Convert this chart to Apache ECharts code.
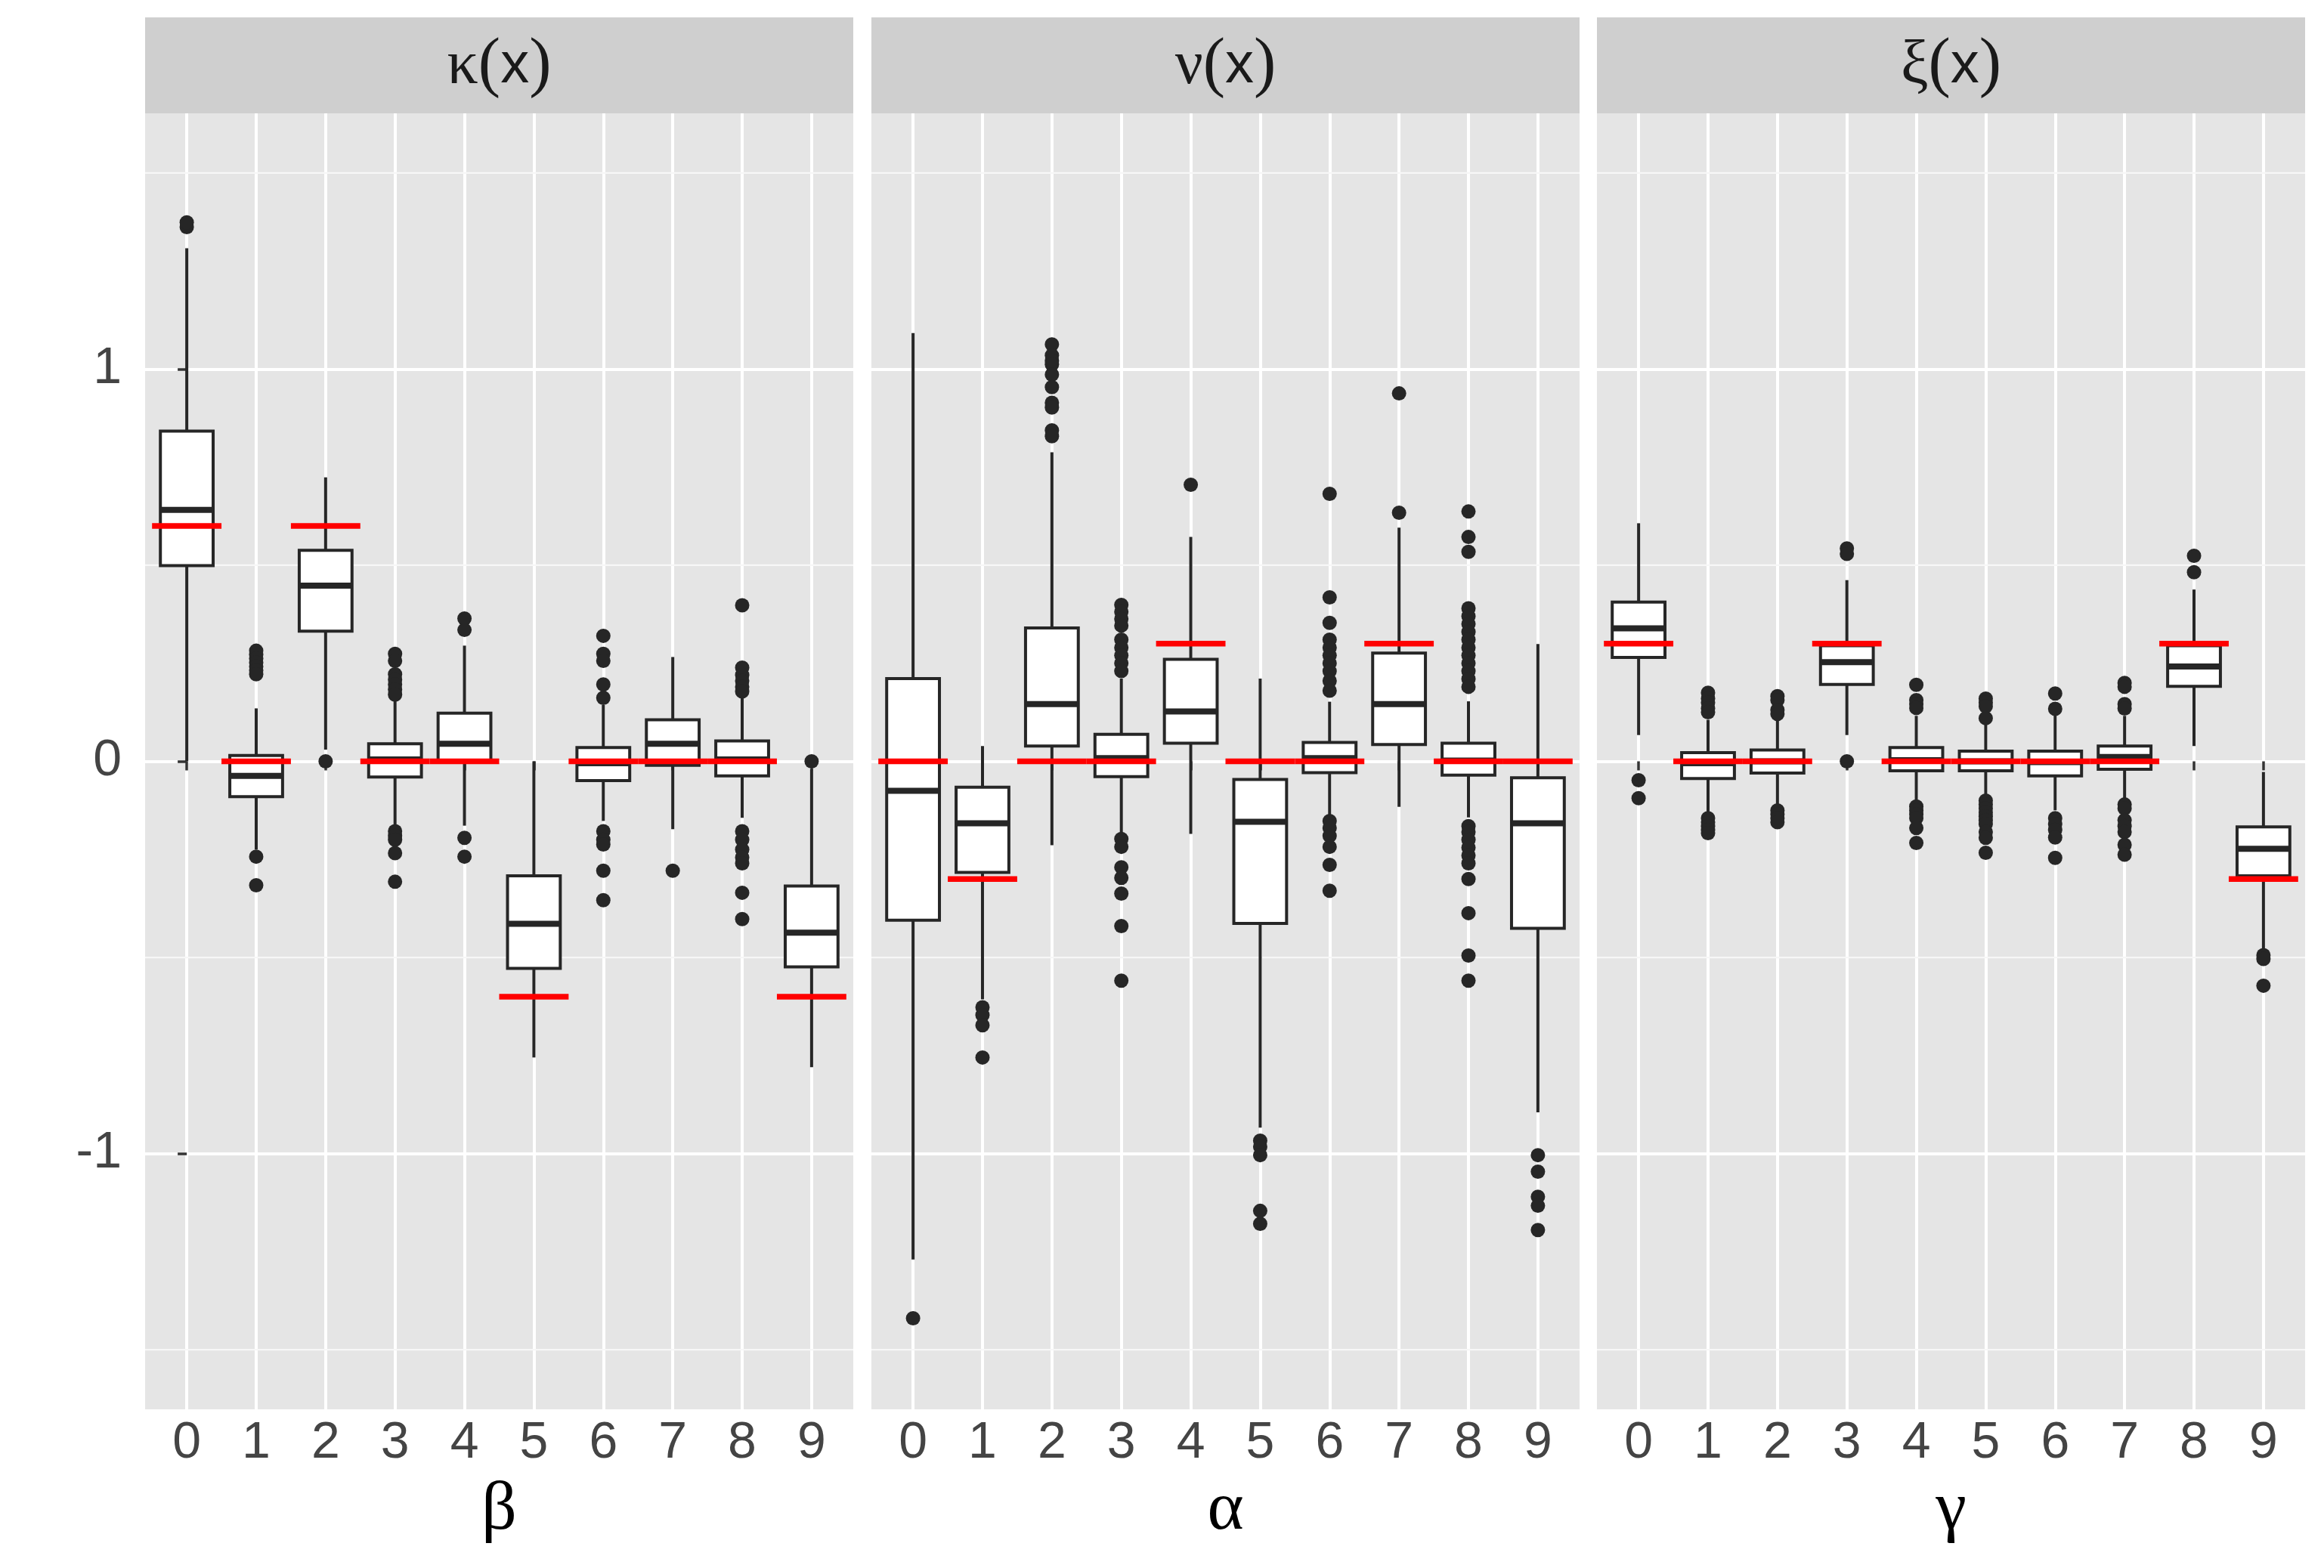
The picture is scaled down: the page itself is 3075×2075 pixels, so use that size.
<!DOCTYPE html>
<html>
<head>
<meta charset="utf-8">
<script src="https://cdn.jsdelivr.net/npm/echarts@6/dist/echarts.min.js"></script>
<style>
html, body { margin: 0; padding: 0; background: #ffffff; }
#main { width: 3075px; height: 2075px; }
</style>
</head>
<body>
<div id="main"></div>
<script>
var categories = ['0', '1', '2', '3', '4', '5', '6', '7', '8', '9'];
var stripGreek = ['κ', 'ν', 'ξ'];
var axisTitles = ['β', 'α', 'γ'];
var yMajor = [-1, 0, 1];
var yMinor = [-1.5, -0.5, 0.5, 1.5];

// each row: [lower whisker, Q1, median, Q3, upper whisker]
var kappaBox = [
    [0.0, 0.499, 0.641, 0.842, 1.308],
    [-0.225, -0.09, -0.037, 0.015, 0.135],
    [0.03, 0.332, 0.448, 0.538, 0.724],
    [-0.161, -0.04, 0.005, 0.045, 0.158],
    [-0.164, -0.003, 0.045, 0.123, 0.295],
    [-0.755, -0.528, -0.414, -0.292, 0.0],
    [-0.152, -0.049, -0.005, 0.035, 0.144],
    [-0.173, -0.01, 0.045, 0.106, 0.266],
    [-0.144, -0.037, 0.005, 0.052, 0.162],
    [-0.78, -0.524, -0.437, -0.318, -0.02]
];
var kappaOut = [
    [1.362, 1.374],
    [0.282, 0.272, 0.262, 0.252, 0.242, 0.232, 0.222, -0.243, -0.316],
    [0.0],
    [0.274, 0.256, 0.222, 0.208, 0.196, 0.183, 0.17, -0.178, -0.19, -0.2, -0.234, -0.307],
    [0.364, 0.335, -0.195, -0.243],
    [],
    [0.32, 0.274, 0.256, 0.196, 0.162, -0.178, -0.2, -0.212, -0.279, -0.354],
    [-0.279],
    [0.398, 0.239, 0.22, 0.205, 0.19, 0.178, -0.178, -0.2, -0.225, -0.245, -0.26, -0.335, -0.402],
    [0.0]
];
var kappaTrue = [0.6, 0, 0.6, 0, 0, -0.6, 0, 0, 0, -0.6];

var nuBox = [
    [-1.27, -0.405, -0.075, 0.211, 1.092],
    [-0.607, -0.283, -0.158, -0.066, 0.039],
    [-0.214, 0.039, 0.146, 0.34, 0.788],
    [-0.185, -0.039, 0.008, 0.069, 0.211],
    [-0.185, 0.046, 0.127, 0.26, 0.572],
    [-0.934, -0.413, -0.154, -0.046, 0.211],
    [-0.139, -0.029, 0.008, 0.048, 0.152],
    [-0.116, 0.043, 0.146, 0.276, 0.596],
    [-0.143, -0.035, 0.002, 0.046, 0.153],
    [-0.895, -0.426, -0.158, -0.042, 0.299]
];
var nuOut = [
    [-1.42],
    [-0.627, -0.647, -0.673, -0.755],
    [1.063, 1.035, 1.021, 1.012, 0.986, 0.954, 0.914, 0.902, 0.844, 0.829],
    [0.399, 0.381, 0.363, 0.346, 0.31, 0.29, 0.27, 0.25, 0.23, -0.198, -0.218, -0.27, -0.297, -0.337, -0.42, -0.559],
    [0.705],
    [-0.967, -0.983, -1.004, -1.146, -1.179],
    [0.682, 0.418, 0.353, 0.31, 0.29, 0.27, 0.25, 0.23, 0.205, 0.18, -0.152, -0.17, -0.19, -0.218, -0.264, -0.33],
    [0.634, 0.938],
    [0.637, 0.572, 0.534, 0.39, 0.37, 0.35, 0.33, 0.31, 0.29, 0.27, 0.25, 0.23, 0.21, 0.19, -0.165, -0.18, -0.2, -0.22, -0.24, -0.26, -0.3, -0.387, -0.495, -0.559],
    [-1.004, -1.046, -1.11, -1.133, -1.195]
];
var nuTrue = [0, -0.3, 0, 0, 0.3, 0, 0, 0.3, 0, 0];

var xiBox = [
    [0.067, 0.265, 0.339, 0.406, 0.607],
    [-0.13, -0.044, -0.005, 0.022, 0.106],
    [-0.11, -0.03, 0.0, 0.029, 0.106],
    [0.067, 0.196, 0.253, 0.295, 0.462],
    [-0.1, -0.024, 0.003, 0.035, 0.116],
    [-0.09, -0.024, 0.0, 0.026, 0.096],
    [-0.125, -0.037, -0.002, 0.026, 0.118],
    [-0.1, -0.02, 0.011, 0.039, 0.116],
    [0.039, 0.191, 0.242, 0.295, 0.438],
    [-0.479, -0.292, -0.223, -0.167, -0.027]
];
var xiOut = [
    [-0.048, -0.094],
    [0.175, 0.16, 0.15, 0.135, 0.125, -0.145, -0.155, -0.165, -0.175, -0.183],
    [0.166, 0.156, 0.131, 0.121, -0.125, -0.135, -0.145, -0.155],
    [0.543, 0.529, 0.0],
    [0.195, 0.156, 0.146, 0.136, -0.115, -0.125, -0.135, -0.145, -0.17, -0.208],
    [0.16, 0.15, 0.14, 0.11, -0.1, -0.11, -0.12, -0.13, -0.14, -0.15, -0.16, -0.18, -0.195, -0.233],
    [0.173, 0.134, -0.145, -0.16, -0.175, -0.194, -0.246],
    [0.2, 0.19, 0.146, 0.135, -0.11, -0.12, -0.15, -0.165, -0.18, -0.213, -0.238],
    [0.524, 0.482],
    [-0.494, -0.504, -0.572]
];
var xiTrue = [0.3, 0, 0, 0.3, 0, 0, 0, 0, 0.3, -0.3];

var panels = [
    { box: kappaBox, out: kappaOut, truth: kappaTrue },
    { box: nuBox, out: nuOut, truth: nuTrue },
    { box: xiBox, out: xiOut, truth: xiTrue }
];

var panelLeft = [192, 1153, 2113];
var panelWidth = 937;
var panelTop = 150;
var panelHeight = 1715;
var ink = '#262626';
var sansFont = '"Liberation Sans", Arial, sans-serif';
var serifFont = '"Liberation Serif", "DejaVu Serif", serif';
var boxHalf = 0.38;
var catValues = categories.map(function (c, i) { return i; });

var myChart = echarts.init(document.getElementById('main'));

function renderMinor(params, api) {
    var y = api.coord([0, api.value(1)])[1];
    var cs = params.coordSys;
    return {
        type: 'line',
        shape: { x1: cs.x, y1: y, x2: cs.x + cs.width, y2: y },
        style: { stroke: '#F7F7F7', lineWidth: 2.2 }
    };
}

function renderBox(params, api) {
    var x = api.value(0);
    var lo = api.coord([x, api.value(1)]);
    var q1 = api.coord([x, api.value(2)]);
    var md = api.coord([x, api.value(3)]);
    var q3 = api.coord([x, api.value(4)]);
    var hi = api.coord([x, api.value(5)]);
    var xl = api.coord([x - boxHalf, 0])[0];
    var xr = api.coord([x + boxHalf, 0])[0];
    return {
        type: 'group',
        children: [
            { type: 'line', shape: { x1: lo[0], y1: lo[1], x2: q1[0], y2: q1[1] }, style: { stroke: ink, lineWidth: 4 } },
            { type: 'line', shape: { x1: q3[0], y1: q3[1], x2: hi[0], y2: hi[1] }, style: { stroke: ink, lineWidth: 4 } },
            { type: 'rect', shape: { x: xl, y: q3[1], width: xr - xl, height: q1[1] - q3[1] },
              style: { fill: '#ffffff', stroke: ink, lineWidth: 4 } },
            { type: 'line', shape: { x1: xl, y1: md[1], x2: xr, y2: md[1] }, style: { stroke: ink, lineWidth: 8 } }
        ]
    };
}

function renderTruth(params, api) {
    var x = api.value(0);
    var a = api.coord([x - 0.5, api.value(1)]);
    var b = api.coord([x + 0.5, api.value(1)]);
    return {
        type: 'line',
        shape: { x1: a[0], y1: a[1], x2: b[0], y2: b[1] },
        style: { stroke: '#FF0000', lineWidth: 7.5 }
    };
}

var grids = [], xAxes = [], yAxes = [], series = [], graphics = [];

panels.forEach(function (p, i) {
    grids.push({
        left: panelLeft[i], top: panelTop, width: panelWidth, height: panelHeight,
        show: true, backgroundColor: '#E5E5E5', borderWidth: 0
    });
    xAxes.push({
        type: 'value', gridIndex: i, min: -0.6, max: 9.6,
        axisLine: { show: false },
        axisTick: { show: true, customValues: catValues, length: 12, lineStyle: { color: '#333333', width: 3.5 } },
        axisLabel: {
            customValues: catValues, margin: 11, fontSize: 68, color: '#444444', fontFamily: sansFont,
            formatter: function (v) { return categories[Math.round(v)]; }
        },
        splitLine: { show: true, lineStyle: { color: '#ffffff', width: 4 } },
        name: axisTitles[i], nameLocation: 'middle', nameGap: 88,
        nameTextStyle: { fontFamily: serifFont, fontSize: 92, color: '#000000' }
    });
    yAxes.push({
        type: 'value', gridIndex: i, min: -1.652, max: 1.652,
        axisLine: { show: false },
        axisTick: { show: i === 0, customValues: yMajor, length: 12, lineStyle: { color: '#333333', width: 3.5 } },
        axisLabel: { show: i === 0, customValues: yMajor, margin: 31, fontSize: 68, color: '#444444', fontFamily: sansFont },
        splitLine: { show: true, lineStyle: { color: '#ffffff', width: 4 } }
    });

    series.push({
        type: 'custom', xAxisIndex: i, yAxisIndex: i, silent: true, z: 1,
        renderItem: renderMinor,
        data: yMinor.map(function (v) { return [0, v]; })
    });
    series.push({
        type: 'custom', xAxisIndex: i, yAxisIndex: i, silent: true, z: 3,
        renderItem: renderBox,
        encode: { x: 0, y: [1, 2, 3, 4, 5] },
        data: p.box.map(function (r, c) { return [c].concat(r); })
    });
    var pts = [];
    p.out.forEach(function (list, c) {
        list.forEach(function (v) { pts.push([c, v]); });
    });
    series.push({
        type: 'scatter', xAxisIndex: i, yAxisIndex: i, silent: true, z: 4,
        symbolSize: 19, itemStyle: { color: ink, opacity: 1 },
        data: pts
    });
    series.push({
        type: 'custom', xAxisIndex: i, yAxisIndex: i, silent: true, z: 5,
        renderItem: renderTruth,
        data: p.truth.map(function (v, c) { return [c, v]; })
    });

    graphics.push({
        type: 'rect', x: panelLeft[i], y: 23,
        shape: { width: panelWidth, height: 127 },
        style: { fill: '#CFCFCF' }
    });
    graphics.push({
        type: 'text', x: panelLeft[i] + panelWidth / 2, y: 88,
        style: {
            text: '{g|' + stripGreek[i] + '}{p|(}{s|x}{p|)}',
            align: 'center', verticalAlign: 'middle',
            rich: {
                g: { fontFamily: serifFont, fontSize: 82, fill: '#1A1A1A' },
                p: { fontFamily: serifFont, fontSize: 88, fill: '#1A1A1A' },
                s: { fontFamily: sansFont, fontSize: 76, fill: '#1A1A1A' }
            }
        }
    });
});

var option = {
    backgroundColor: '#ffffff',
    animation: false,
    grid: grids,
    xAxis: xAxes,
    yAxis: yAxes,
    series: series,
    graphic: { elements: graphics }
};
myChart.setOption(option);
</script>
</body>
</html>
